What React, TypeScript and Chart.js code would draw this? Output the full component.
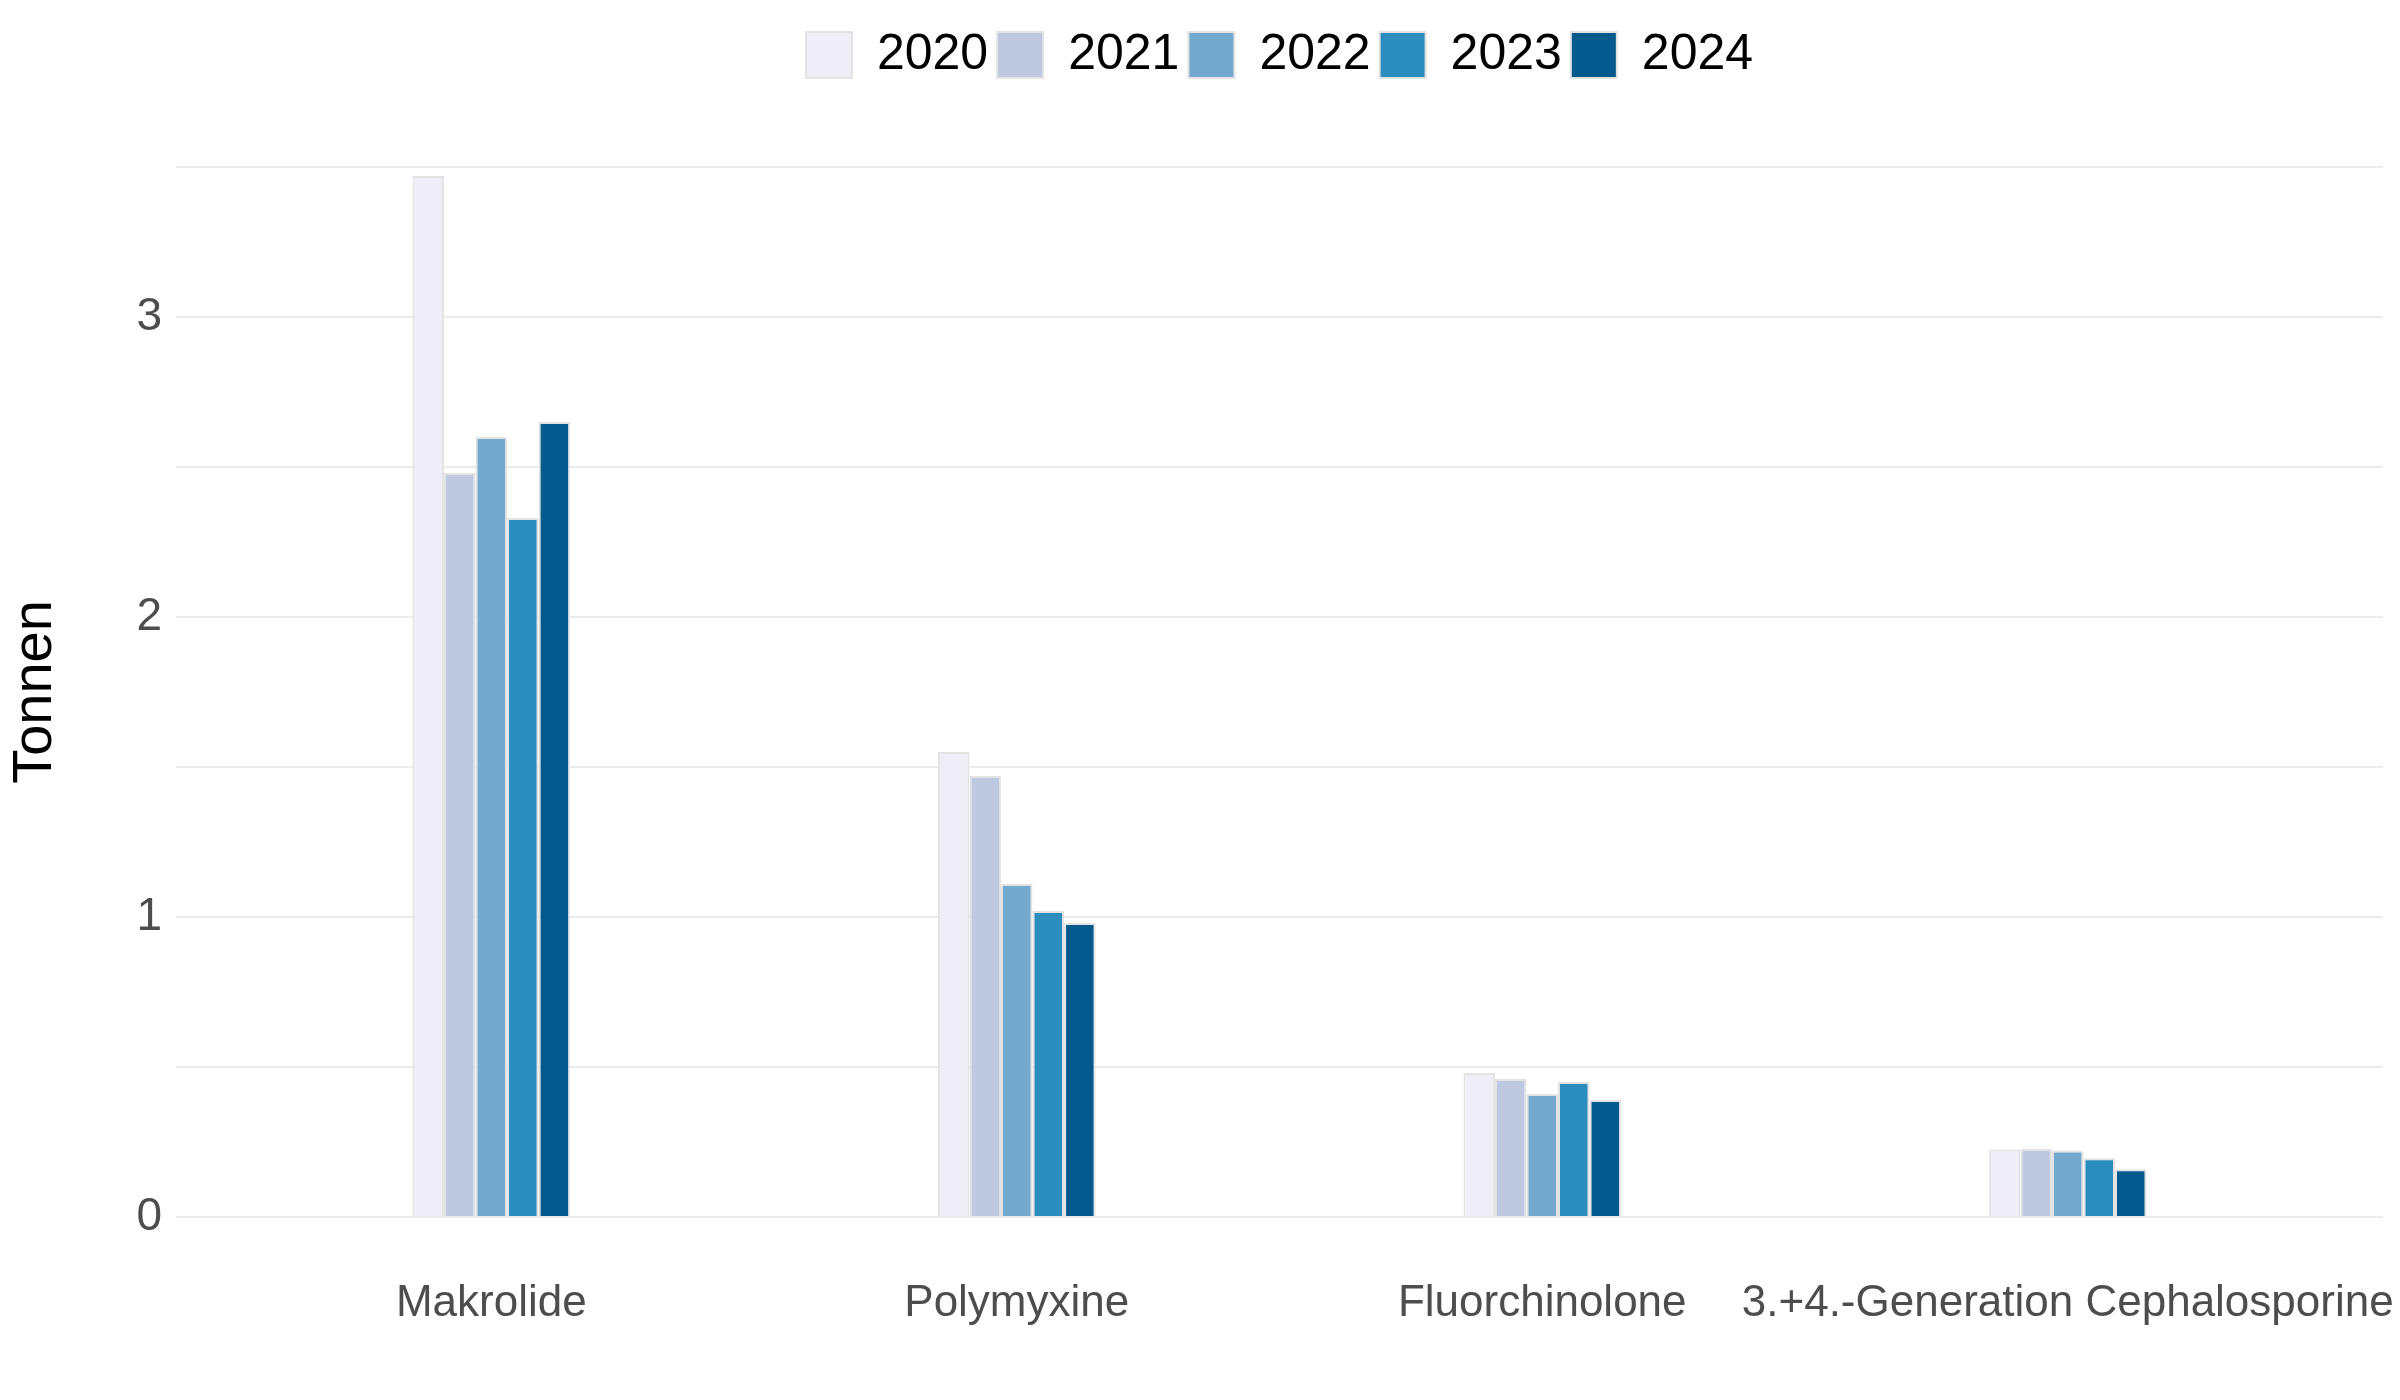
import React, { useEffect, useRef } from "react";
import { Chart, registerables } from "chart.js";

Chart.register(...registerables);

const categories = [
  "Makrolide",
  "Polymyxine",
  "Fluorchinolone",
  "3.+4.-Generation Cephalosporine",
];
const years = ["2020", "2021", "2022", "2023", "2024"];
const values2020 = [3.47, 1.55, 0.48, 0.225];
const values2021 = [2.48, 1.47, 0.46, 0.227];
const values2022 = [2.6, 1.11, 0.41, 0.222];
const values2023 = [2.33, 1.02, 0.45, 0.196];
const values2024 = [2.65, 0.98, 0.39, 0.159];
const seriesValues = [values2020, values2021, values2022, values2023, values2024];
const colors = ["#efedf5", "#bdc9e1", "#74a9cf", "#2b8cbe", "#045a8d"];
const yTicks = [0, 0.5, 1, 1.5, 2, 2.5, 3, 3.5];

const FONT = "'Liberation Sans', Arial, sans-serif";

export default function App() {
  const ref = useRef<HTMLCanvasElement | null>(null);

  useEffect(() => {
    if (!ref.current) return;
    const legendSpacer = {
      id: "legendSpacer",
      beforeInit(chart: any) {
        const legend = chart.legend;
        if (!legend) return;
        const orig = legend.fit;
        legend.fit = function () {
          orig.call(this);
          this.height = 146;
        };
      },
    };
    const chart = new Chart(ref.current, {
      type: "bar",
      data: {
        datasets: years.map((y, i) => ({
          label: y,
          data: seriesValues[i].map((v, j) => ({ x: j, y: v })),
          backgroundColor: colors[i],
          borderColor: "#e3e3e3",
          borderWidth: 2,
          categoryPercentage: 0.3,
          barPercentage: 1.0,
        })),
      },
      options: {
        responsive: false,
        animation: false,
        layout: { padding: { top: 21, right: 17, left: 0, bottom: 0 } },
        plugins: {
          tooltip: { enabled: false },
          legend: {
            position: "top",
            fullSize: false,
            labels: {
              boxWidth: 46,
              boxHeight: 46,
              padding: 9,
              color: "#000000",
              font: { family: FONT, size: 50 },
            },
          },
        },
        scales: {
          x: {
            type: "linear",
            offset: false,
            min: -0.6,
            max: 3.6,
            afterBuildTicks(scale: any) {
              scale.ticks = categories.map((_, i) => ({ value: i }));
            },
            afterFit(scale: any) {
              scale.height = 183;
              scale.paddingLeft = 0;
              scale.paddingRight = 0;
            },
            grid: { display: false, drawTicks: false, offset: false },
            border: { display: false },
            ticks: {
              autoSkip: false,
              maxRotation: 0,
              minRotation: 0,
              padding: 60,
              color: "#4d4d4d",
              font: { family: FONT, size: 44 },
              callback: (v: any) => categories[v as number] ?? "",
            },
          },
          y: {
            min: 0,
            max: 3.5,
            afterBuildTicks(scale: any) {
              scale.ticks = yTicks.map((v) => ({ value: v }));
            },
            afterFit(scale: any) {
              scale.width = 176;
            },
            grid: { color: "#ebebeb", lineWidth: 2, drawTicks: false },
            border: { display: false },
            ticks: {
              padding: 14,
              color: "#4d4d4d",
              font: { family: FONT, size: 46 },
              callback: (v: any) =>
                Number.isInteger(v as number) ? String(v) : "",
            },
            title: {
              display: true,
              text: "Tonnen",
              color: "#000000",
              font: { family: FONT, size: 56 },
              padding: { top: 2, bottom: 0 },
            },
          },
        },
      },
      plugins: [legendSpacer],
    });
    return () => chart.destroy();
  }, []);

  return (
    <div
      style={{
        position: "absolute",
        left: 0,
        top: 0,
        width: 2400,
        height: 1400,
        background: "#ffffff",
      }}
    >
      <canvas ref={ref} width={2400} height={1400} />
    </div>
  );
}
